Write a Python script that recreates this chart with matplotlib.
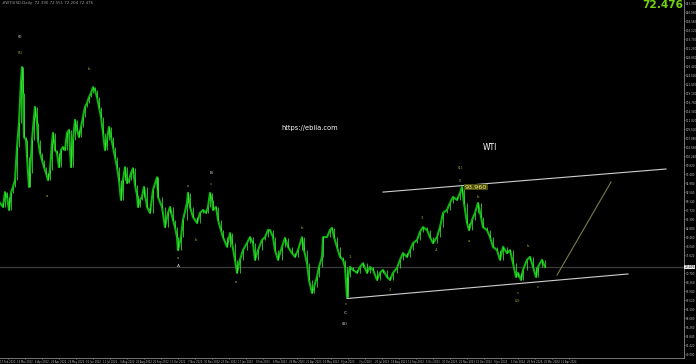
import matplotlib
matplotlib.use("Agg")
import matplotlib.pyplot as plt
import numpy as np
import pandas as pd

# WTI daily closes (session number, price)
session = [0, 3, 5, 7, 9, 11, 13, 15, 17, 19, 21, 22, 23, 24, 26, 27, 29, 30, 32, 34,
           35, 37, 38, 40, 42, 44, 46, 48, 50, 52, 53, 55, 57, 59, 61, 63, 65, 67, 69, 71,
           73, 75, 77, 79, 81, 83, 85, 87, 89, 91, 93, 95, 97, 99, 101, 103, 105, 107, 109, 111,
           113, 115, 117, 119, 121, 123, 125, 127, 129, 131, 133, 135, 137, 138, 140, 142, 144, 147, 150, 153,
           157, 158, 162, 165, 168, 170, 173, 175, 177, 178, 181, 183, 187, 188, 190, 193, 197, 200, 203, 206,
           208, 210, 212, 213, 216, 218, 221, 223, 227, 230, 232, 235, 237, 240, 243, 247, 250, 253, 255, 258,
           262, 265, 268, 270, 273, 275, 278, 282, 285, 288, 292, 295, 298, 302, 304, 307, 309, 312, 314, 317,
           319, 322, 323, 327, 330, 332, 334, 337, 340, 343, 345, 347, 348, 350, 353, 357, 360, 363, 367, 370,
           373, 377, 380, 383, 387, 390, 393, 397, 400, 403, 407, 410, 413, 417, 420, 423, 427, 430, 433, 437,
           440, 443, 447, 450, 453, 457, 460, 462, 464, 467, 469, 472, 475, 478, 481, 483, 487, 490, 493, 497,
           500, 503, 507, 510, 513, 516, 518, 521, 523, 527, 530, 533, 536, 538, 542, 545]
close = [89.7, 88.6, 92.6, 91.3, 87.8, 92.4, 94.0, 95.8, 104.7, 111.2, 122.7, 126.2, 119.2, 107.4, 106.6, 102.0, 94.0, 97.7, 106.6, 112.8,
         115.5, 111.2, 106.6, 103.1, 101.2, 99.3, 97.7, 95.8, 98.5, 105.8, 108.5, 103.9, 103.1, 99.3, 103.9, 104.7, 103.9, 108.5, 109.3, 99.3,
         106.6, 112.0, 109.3, 107.4, 110.1, 112.8, 115.5, 116.5, 118.1, 119.2, 120.8, 120.0, 118.1, 115.5, 112.8, 108.5, 103.9, 106.6, 110.1, 107.4,
         104.7, 102.0, 99.3, 95.8, 90.5, 95.8, 99.3, 95.0, 95.8, 97.7, 99.0, 94.5, 91.8, 88.6, 90.5, 91.3, 94.0, 88.6, 87.0, 93.2,
         96.6, 91.3, 88.6, 83.2, 87.0, 88.6, 85.1, 83.2, 80.5, 77.0, 80.5, 85.1, 89.7, 92.4, 88.6, 85.9, 84.3, 87.0, 87.8, 87.0,
         88.6, 92.4, 90.5, 87.8, 88.6, 85.1, 82.4, 80.5, 77.9, 81.6, 78.9, 74.4, 70.9, 74.4, 77.0, 78.9, 80.5, 78.9, 74.4, 77.0,
         79.7, 80.5, 82.4, 82.4, 80.5, 77.0, 74.4, 77.9, 80.3, 77.9, 76.2, 75.2, 77.0, 80.5, 77.0, 73.5, 69.0, 65.5, 67.1, 69.8,
         72.5, 75.2, 80.5, 80.5, 82.4, 83.0, 80.5, 77.9, 75.2, 74.4, 72.5, 64.4, 69.8, 72.5, 71.7, 70.9, 72.5, 73.5, 70.9, 72.5,
         71.7, 69.0, 70.9, 71.7, 69.8, 69.0, 70.9, 72.2, 74.4, 76.2, 75.2, 77.0, 78.9, 79.7, 81.9, 83.2, 82.4, 80.5, 78.9, 80.5,
         83.2, 87.0, 87.8, 89.7, 91.3, 90.5, 92.4, 94.0, 89.7, 84.3, 82.4, 85.1, 87.0, 89.7, 85.9, 83.2, 82.4, 80.5, 77.9, 77.0,
         74.4, 77.9, 76.2, 77.0, 73.5, 69.8, 70.9, 69.0, 71.7, 74.4, 75.2, 72.5, 69.8, 72.5, 74.4, 72.5]

last_price = 72.476
peak_price = 93.960

# trend channel and projection (session, price)
upper_x, upper_p = [383, 666], [92.6, 98.8]
lower_x, lower_p = [347, 628], [64.0, 70.6]
proj_x, proj_p = [557, 611], [70.3, 95.3]

# wave labels
wave_text = ["(I)", "(5)", "a", "b", "a", "A", "a", "b", "c", "B", "a", "b", "c", "C", "(II)",
             "1", "2", "3", "4", "5", "(1)", "a", "b", "c", "(2)", "b", "c"]
wave_x = [20, 20, 47, 89, 178, 178, 188, 196, 211, 211, 236, 302, 346, 345, 345,
          350, 390, 422, 436, 460, 460, 469, 478, 518, 517, 528, 538]
wave_p = [134.3, 130.0, 91.5, 125.7, 74.9, 72.7, 94.2, 79.7, 94.8, 97.7, 68.4, 83.0, 62.5, 60.1, 57.2,
          75.2, 66.3, 85.6, 77.0, 95.6, 99.1, 79.5, 91.3, 65.5, 63.3, 78.1, 67.1]
wave_white = ["(I)", "A", "B", "C", "(II)"]

W, H = 696, 364
fig = plt.figure(figsize=(W / 100, H / 100), dpi=100, facecolor="black")
ax = fig.add_axes([0, 6 / H, 684 / W, 358 / H], facecolor="black")

ax.axhline(last_price, color="#3c3c3c", lw=0.9, zorder=1)
ax.plot(session, close, color="#10b810", lw=1.5, zorder=3)
lo = np.minimum(close[:-1], close[1:])
hi = np.maximum(close[:-1], close[1:])
ax.vlines(session[1:], lo, hi, color="#48f048", lw=0.5, zorder=4)

ax.plot(upper_x, upper_p, color="#cfcfcf", lw=0.8, zorder=2)
ax.plot(lower_x, lower_p, color="#cfcfcf", lw=0.8, zorder=2)
ax.plot(proj_x, proj_p, color="#7c7c48", lw=0.8, zorder=2)

for t, x, p in zip(wave_text, wave_x, wave_p):
    white = t in wave_white
    ax.text(x, p, t, color="#d8d8d8" if white else "#a8a830",
            fontsize=3.2 if white else 2.8, ha="center", va="center", zorder=5)

ax.text(465, peak_price, f"{peak_price:.3f}", color="#f4f46a", fontsize=4.6,
        ha="left", va="center", zorder=6,
        bbox=dict(boxstyle="square,pad=0.1", fc="#4c4c12", ec="none"))
ax.text(310, 109.8, "https://ebila.com", color="white", fontsize=4.8, ha="center", va="center")
ax.text(490, 104.7, "WTI", color="white", fontsize=5.5, ha="center", va="center")

ax.set_xlim(0, 684)
ax.set_ylim(48.03, 144.2)

# price scale on the right (skip the tick hidden behind the last-price box)
ax.yaxis.tick_right()
yt = np.arange(49.0, 144.0, 2.42)
ax.set_yticks(yt[np.abs(yt - last_price) > 1.3])
ax.yaxis.set_major_formatter(matplotlib.ticker.FormatStrFormatter("%.3f"))
ax.tick_params(axis="y", colors="#bdbdbd", labelsize=2.0, length=1.0, width=0.4, pad=0.4)

# date scale at the bottom (only up to the last bars, as in the terminal)
dates = pd.bdate_range("2022-02-07", periods=700)
tick_pos = list(range(8, 570, 17))
ax.set_xticks(tick_pos)
ax.set_xticklabels([f"{dates[i].day} {dates[i]:%b %Y}" for i in tick_pos])
ax.tick_params(axis="x", colors="#bdbdbd", labelsize=1.8, length=1.0, width=0.4, pad=0.3)

for s in ["top", "left"]:
    ax.spines[s].set_visible(False)
for s in ["right", "bottom"]:
    ax.spines[s].set_color("#8a8a8a")
    ax.spines[s].set_linewidth(0.6)

ax.text(684.5, last_price, f"{last_price:.3f}", color="black", fontsize=2.2,
        ha="left", va="center", zorder=7, clip_on=False,
        bbox=dict(boxstyle="square,pad=0.12", fc="#e8e8e8", ec="none"))

fig.text(2 / W, 1 - 1 / H, "#WTIUSD,Daily  72.390 72.551 72.204 72.476", color="#a0a0a0",
         fontsize=2.8, ha="left", va="top")
fig.text(683 / W, 1 - 0.5 / H, f"{last_price:.3f}", color="#74d40c", fontsize=7.6,
         fontweight="bold", ha="right", va="top")

fig.savefig("out.png", dpi=100, facecolor="black")
